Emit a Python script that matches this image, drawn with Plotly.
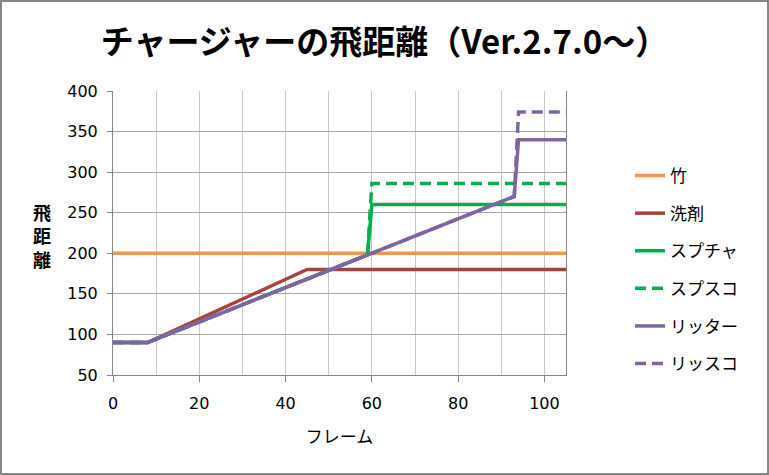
import plotly.graph_objects as go

title_text = "チャージャーの飛距離（Ver.2.7.0～）"
series_names = ["竹", "洗剤", "スプチャ", "スプスコ", "リッター", "リッスコ"]
# breakpoints (frame, distance)
take_x = [0, 105]
take_y = [200, 200]
senzai_x = [0, 8, 45, 105]
senzai_y = [90, 90, 180, 180]
spucha_x = [0, 8, 59, 60, 105]
spucha_y = [90, 90, 198, 260, 260]
spusco_x = [0, 8, 59, 60, 105]
spusco_y = [90, 90, 198, 286, 286]
liter_x = [0, 8, 93, 94, 105]
liter_y = [90, 90, 270, 340, 340]
lisco_x = [0, 8, 93, 94, 105]
lisco_y = [90, 90, 270, 374, 374]

xs = [take_x, senzai_x, spucha_x, spusco_x, liter_x, lisco_x]
ys = [take_y, senzai_y, spucha_y, spusco_y, liter_y, lisco_y]
colors = ["#F79646", "#A5443F", "#00B050", "#00B050", "#8064A2", "#8064A2"]
dashes = ["solid", "solid", "solid", "11px,6px", "solid", "11px,6px"]

fig = go.Figure()
for i, name in enumerate(series_names):
    fig.add_trace(go.Scatter(
        x=xs[i], y=ys[i], mode="lines", name=name,
        line=dict(color=colors[i], width=3.5, dash=dashes[i]),
        legendgroup=f"g{i}",
    ))

L, R, T, B = 113, 203, 91, 100
W, H = 769, 475
pw, ph = W - L - R, H - T - B

fig.update_layout(
    width=W, height=H,
    margin=dict(l=L, r=R, t=T, b=B),
    paper_bgcolor="white", plot_bgcolor="white",
    font=dict(family="DejaVu Sans, Noto Sans CJK JP", size=16, color="#000000"),
    title=dict(text=title_text, x=0.5, xanchor="center", y=1 - 42 / H, yanchor="middle",
               font=dict(family="Noto Sans CJK JP", size=33, color="black", weight="bold")),
    legend=dict(x=(630 - L) / pw, xanchor="left", y=(H - B - 158) / ph, yanchor="top",
                font=dict(family="Noto Sans CJK JP", size=17), tracegroupgap=12.5,
                bgcolor="rgba(0,0,0,0)"),
    showlegend=True,
)

fig.update_xaxes(
    range=[0, 105], dtick=20, tick0=0,
    showgrid=True, gridcolor="#C6C6C6", gridwidth=1,
    minor=dict(dtick=10, showgrid=True, gridcolor="#C6C6C6", ticks=""),
    showline=True, linecolor="#868686", linewidth=1,
    ticks="outside", ticklen=6, tickcolor="#868686",
    ticklabelstandoff=8,
    zeroline=False,
    title=dict(text="フレーム", font=dict(family="Noto Sans CJK JP", size=17), standoff=18),
    tickfont=dict(family="DejaVu Sans", size=16),
)
fig.update_yaxes(
    range=[50, 400], dtick=50, tick0=0,
    showgrid=True, gridcolor="#A6A6A6", gridwidth=1,
    showline=True, linecolor="#868686", linewidth=1, mirror=True,
    ticks="outside", ticklen=5, tickcolor="#868686",
    ticklabelstandoff=6,
    zeroline=False,
    tickfont=dict(family="DejaVu Sans", size=16),
)

fig.add_annotation(text="飛<br>距<br>離", xref="paper", yref="paper",
                   x=(42 - L) / pw, y=(H - B - 235) / ph, xanchor="center", yanchor="middle",
                   showarrow=False, align="center",
                   font=dict(family="Noto Sans CJK JP", size=18, color="black", weight="bold"))

fig.add_shape(type="rect", xref="paper", yref="paper",
              x0=(1 - L) / pw, x1=(W - 1 - L) / pw,
              y0=(H - B - (H - 1)) / ph, y1=(H - B - 1) / ph,
              line=dict(color="#868686", width=2), fillcolor="rgba(0,0,0,0)", layer="above")

fig.write_html("out.html")
